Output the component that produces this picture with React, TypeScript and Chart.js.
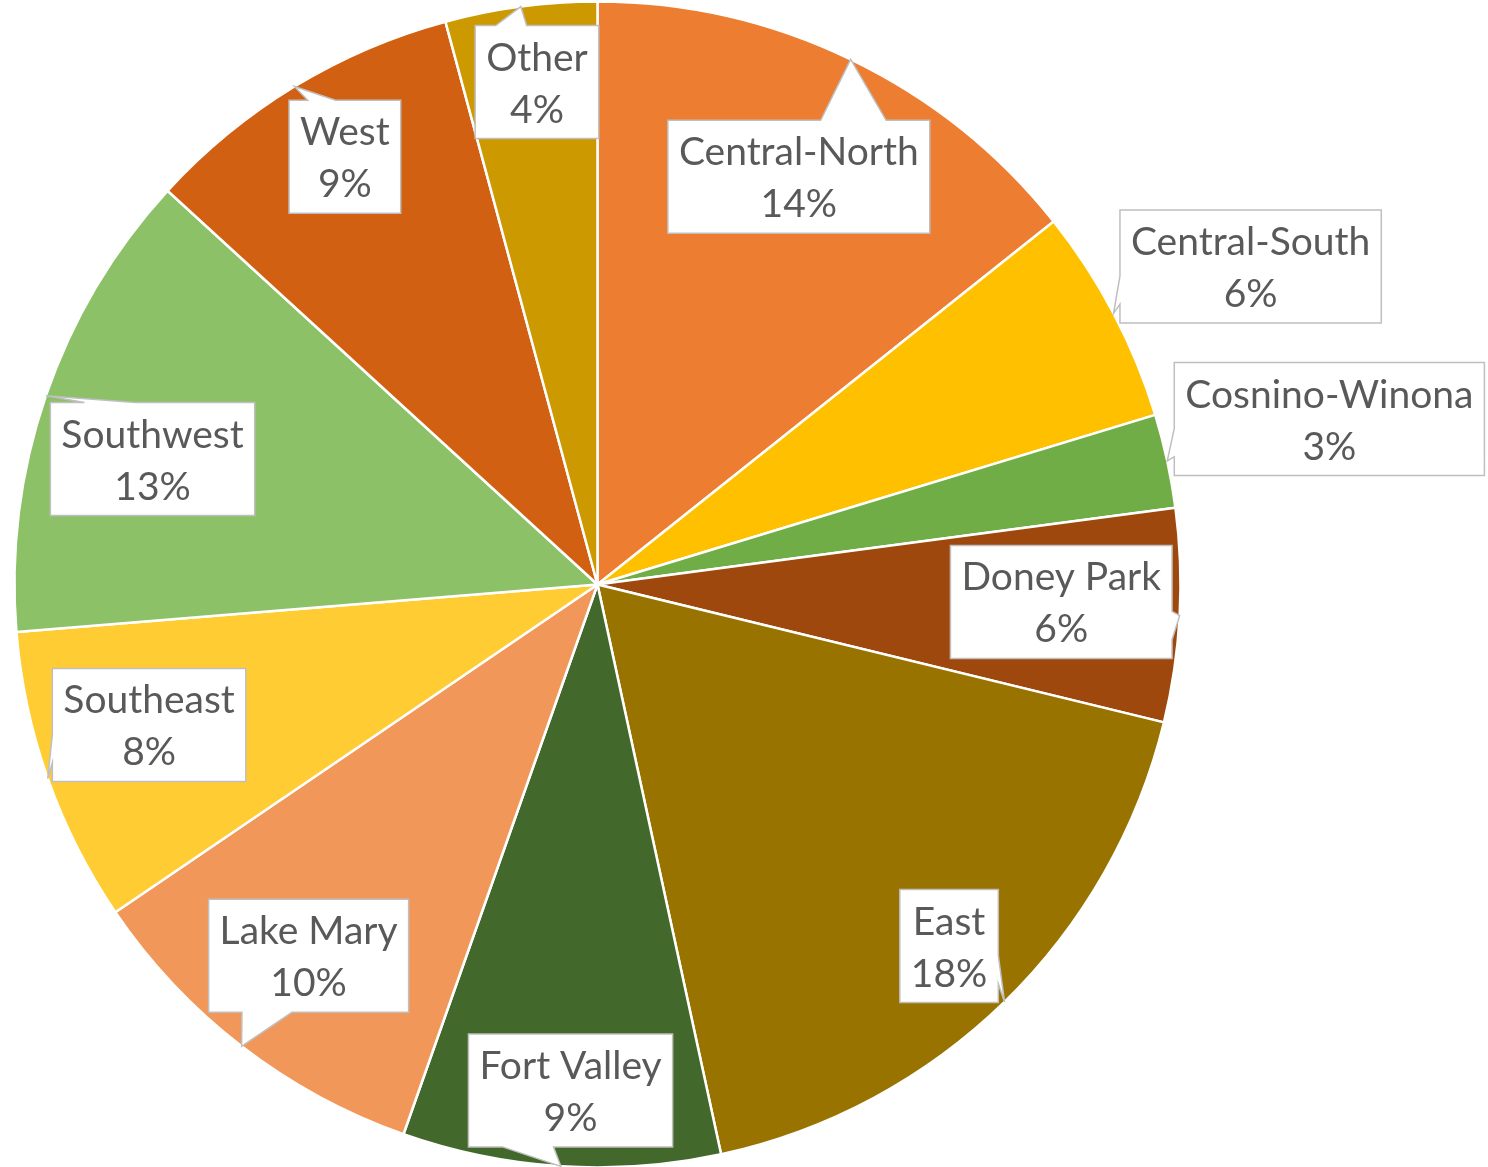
import React, { useEffect, useRef } from "react";
import { Chart, registerables } from "chart.js";

Chart.register(...registerables);

const categories = [
  "Central-North",
  "Central-South",
  "Cosnino-Winona",
  "Doney Park",
  "East",
  "Fort Valley",
  "Lake Mary",
  "Southeast",
  "Southwest",
  "West",
  "Other",
];
const shares = [14.3, 6.0, 2.6, 5.9, 17.8, 8.8, 10.1, 8.2, 13.1, 9.0, 4.2];
const sliceColors = [
  "#ED7D31",
  "#FFC000",
  "#70AD47",
  "#9E480E",
  "#997300",
  "#43682B",
  "#F1975A",
  "#FFCD33",
  "#8CC168",
  "#D26012",
  "#CC9900",
];
// callout layout: distance of box centre from pie centre (fraction of radius) and angular shift (deg)
const calloutRadius = [0.78, 1.246, 1.287, 0.796, 0.865, 0.869, 0.807, 0.806, 0.793, 0.852, 0.868];
const calloutShift = [0.54, 1.76, -0.5, -0.9, 0.08, -0.55, 0.26, 2.05, -3.15, 0.75, 0.69];

const FONT_FAMILY = "Lato, 'Noto Sans', sans-serif";
const FONT_SIZE = 39;
const BOX_H = 113;
const PAD_X = 11;

function calloutPath(
  ctx: CanvasRenderingContext2D,
  l: number,
  t: number,
  w: number,
  h: number,
  tx: number,
  ty: number
) {
  const r = l + w;
  const b = t + h;
  const hc = l + w / 2;
  const vc = t + h / 2;
  const dx = tx - hc;
  const dy = ty - vc;
  const inside = tx >= l && tx <= r && ty >= t && ty <= b;
  ctx.beginPath();
  if (inside) {
    ctx.rect(l, t, w, h);
    return;
  }
  const vertical = Math.abs(dy) / h > Math.abs(dx) / w;
  if (vertical) {
    const x1 = l + (w * (dx > 0 ? 7 : 2)) / 12;
    const x2 = l + (w * (dx > 0 ? 10 : 5)) / 12;
    if (dy < 0) {
      ctx.moveTo(l, t);
      ctx.lineTo(x1, t);
      ctx.lineTo(tx, ty);
      ctx.lineTo(x2, t);
      ctx.lineTo(r, t);
      ctx.lineTo(r, b);
      ctx.lineTo(l, b);
    } else {
      ctx.moveTo(l, t);
      ctx.lineTo(r, t);
      ctx.lineTo(r, b);
      ctx.lineTo(x2, b);
      ctx.lineTo(tx, ty);
      ctx.lineTo(x1, b);
      ctx.lineTo(l, b);
    }
  } else {
    const y1 = t + (h * (dy > 0 ? 7 : 2)) / 12;
    const y2 = t + (h * (dy > 0 ? 10 : 5)) / 12;
    if (dx < 0) {
      ctx.moveTo(l, t);
      ctx.lineTo(r, t);
      ctx.lineTo(r, b);
      ctx.lineTo(l, b);
      ctx.lineTo(l, y2);
      ctx.lineTo(tx, ty);
      ctx.lineTo(l, y1);
    } else {
      ctx.moveTo(l, t);
      ctx.lineTo(r, t);
      ctx.lineTo(r, y1);
      ctx.lineTo(tx, ty);
      ctx.lineTo(r, y2);
      ctx.lineTo(r, b);
      ctx.lineTo(l, b);
    }
  }
  ctx.closePath();
}

const calloutPlugin = {
  id: "callouts",
  afterDatasetsDraw(chart: any) {
    const ctx: CanvasRenderingContext2D = chart.ctx;
    const meta = chart.getDatasetMeta(0);
    const data = chart.data.datasets[0].data as number[];
    const total = data.reduce((a, v) => a + v, 0);
    ctx.save();
    ctx.font = `${FONT_SIZE}px ${FONT_FAMILY}`;
    meta.data.forEach((arc: any, i: number) => {
      const { x, y, startAngle, endAngle, outerRadius } = arc.getProps(
        ["x", "y", "startAngle", "endAngle", "outerRadius"],
        true
      );
      const mid = (startAngle + endAngle) / 2;
      const tipX = x + Math.cos(mid) * outerRadius;
      const tipY = y + Math.sin(mid) * outerRadius;
      const ang = mid + (calloutShift[i] * Math.PI) / 180;
      const cx = x + Math.cos(ang) * outerRadius * calloutRadius[i];
      const cy = y + Math.sin(ang) * outerRadius * calloutRadius[i];
      const line1 = chart.data.labels[i] as string;
      const line2 = Math.round((data[i] / total) * 100) + "%";
      const tw = Math.max(ctx.measureText(line1).width, ctx.measureText(line2).width);
      const w = tw + PAD_X * 2;
      const l = cx - w / 2;
      const t = cy - BOX_H / 2;
      calloutPath(ctx, l, t, w, BOX_H, tipX, tipY);
      ctx.fillStyle = "#FFFFFF";
      ctx.fill();
      ctx.lineWidth = 1.5;
      ctx.strokeStyle = "#BFBFBF";
      ctx.lineJoin = "miter";
      ctx.stroke();
      ctx.fillStyle = "#595959";
      ctx.textAlign = "center";
      ctx.textBaseline = "alphabetic";
      ctx.fillText(line1, cx, t + 45);
      ctx.fillText(line2, cx, t + 97);
    });
    ctx.restore();
  },
};

export default function App() {
  const canvasRef = useRef<HTMLCanvasElement | null>(null);

  useEffect(() => {
    const canvas = canvasRef.current;
    if (!canvas) return;
    const chart = new Chart(canvas, {
      type: "pie",
      data: {
        labels: categories,
        datasets: [
          {
            data: shares,
            backgroundColor: sliceColors,
            borderColor: "#FFFFFF",
            borderWidth: 2.5,
          },
        ],
      },
      options: {
        responsive: false,
        animation: false,
        radius: 583,
        layout: { padding: { left: 14, right: 307, top: 2, bottom: 0 } },
        plugins: {
          legend: { display: false },
          tooltip: { enabled: false },
        },
      } as any,
      plugins: [calloutPlugin],
    });
    return () => chart.destroy();
  }, []);

  return (
    <div
      style={{
        position: "fixed",
        left: 0,
        top: 0,
        width: 1488,
        height: 1167,
        background: "#FFFFFF",
      }}
    >
      <canvas ref={canvasRef} width={1488} height={1167} style={{ display: "block" }} />
    </div>
  );
}
